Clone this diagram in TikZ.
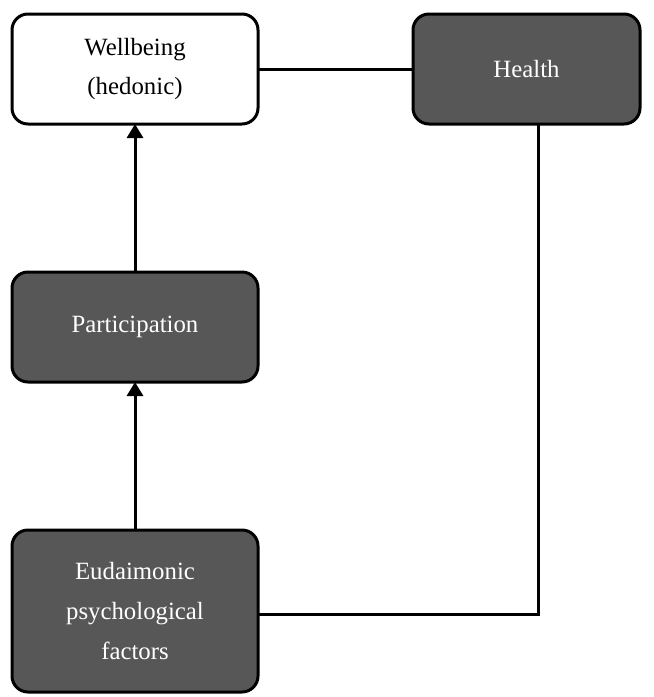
\documentclass[tikz,border=0pt]{standalone}
\usepackage{fontspec}
\setmainfont{Liberation Serif}
\usepackage{tikz}
\usepackage{xcolor}
\usetikzlibrary{arrows.meta,positioning}
\definecolor{wbDark}{RGB}{87,87,87}
\definecolor{wbInk}{RGB}{0,0,0}

\begin{document}
\begin{tikzpicture}[x=0.5pt,y=-0.5pt,
  factorbox/.style={draw=wbInk,line width=1.5pt,rounded corners=8pt,
    inner sep=0pt,outer sep=0pt,align=center,
    font=\fontsize{12.4}{19.8}\selectfont},
  darkbox/.style={factorbox,fill=wbDark,text=white},
  lightbox/.style={factorbox,fill=white,text=wbInk},
  link/.style={draw=wbInk,line width=1.5pt},
  causal/.style={link,-{Triangle[length=7pt,width=8pt]}}]
  \useasboundingbox (0,0) rectangle (654,697);
  \node[lightbox,minimum width=123pt,minimum height=55pt] (wellbeing) at (135,69) {Wellbeing\\(hedonic)};
  \node[darkbox,minimum width=113.5pt,minimum height=55pt] (health) at (526.5,69) {Health};
  \node[darkbox,minimum width=123pt,minimum height=55pt] (participation) at (135,327) {Participation};
  \node[darkbox,minimum width=123pt,minimum height=81pt] (eudaimonic) at (135,611) {Eudaimonic\\psychological\\factors};
  \coordinate (bend) at (538,614);
  \draw[link] (wellbeing.east) -- (health.west);
  \draw[link] (health.south -| bend) -- (bend) -- (bend -| eudaimonic.east);
  \draw[causal] (participation.north) -- (wellbeing.south);
  \draw[causal] (eudaimonic.north) -- (participation.south);
\end{tikzpicture}
\end{document}
